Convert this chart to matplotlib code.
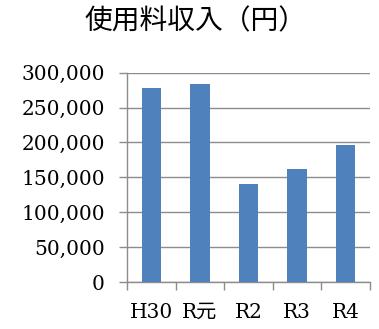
import matplotlib
matplotlib.use("Agg")
import matplotlib.pyplot as plt
from matplotlib.ticker import FuncFormatter, MultipleLocator

categories = ["H30", "R元", "R2", "R3", "R4"]
revenue = [278000, 284000, 140000, 162000, 196000]

W, H = 379, 329
fig = plt.figure(figsize=(W / 100, H / 100), dpi=100)
ax = fig.add_axes([127 / W, 1 - 282 / H, (370 - 127) / W, (282 - 72.7) / H])

serif = ["DejaVu Serif", "Noto Sans CJK JP"]
grid_c = "#8c8c8c"

x = range(len(categories))
ax.bar(x, revenue, width=0.4, color="#4f81bd", zorder=3)

ax.set_xlim(-0.5, len(categories) - 0.5)
ax.set_ylim(0, 300000)
ax.yaxis.set_major_locator(MultipleLocator(50000))
ax.yaxis.set_major_formatter(FuncFormatter(lambda v, p: f"{int(v):,}"))
ax.grid(axis="y", color=grid_c, linewidth=1.0, zorder=0)

ax.set_xticks([i - 0.5 for i in range(len(categories) + 1)], minor=False)
ax.set_xticklabels([])
ax.set_xticks(list(x), minor=True)
ax.set_xticklabels(categories, minor=True)
ax.tick_params(axis="x", which="major", length=6, color=grid_c, width=1)
ax.tick_params(axis="x", which="minor", length=0, pad=15)
ax.tick_params(axis="y", length=6, color=grid_c, width=1, pad=10)

for lab in ax.get_yticklabels() + ax.get_xticklabels(minor=True):
    lab.set_fontfamily(serif)
    lab.set_fontsize(14.5)

for s in ["top", "right"]:
    ax.spines[s].set_visible(False)
for s in ["left", "bottom"]:
    ax.spines[s].set_color(grid_c)
    ax.spines[s].set_linewidth(1.0)

fig.text(195 / W, 1 - 21 / H, "使用料収入（円）", ha="center", va="center",
         fontsize=20, family=["Noto Sans CJK JP", "DejaVu Sans"])

fig.savefig("out.png", dpi=100)
